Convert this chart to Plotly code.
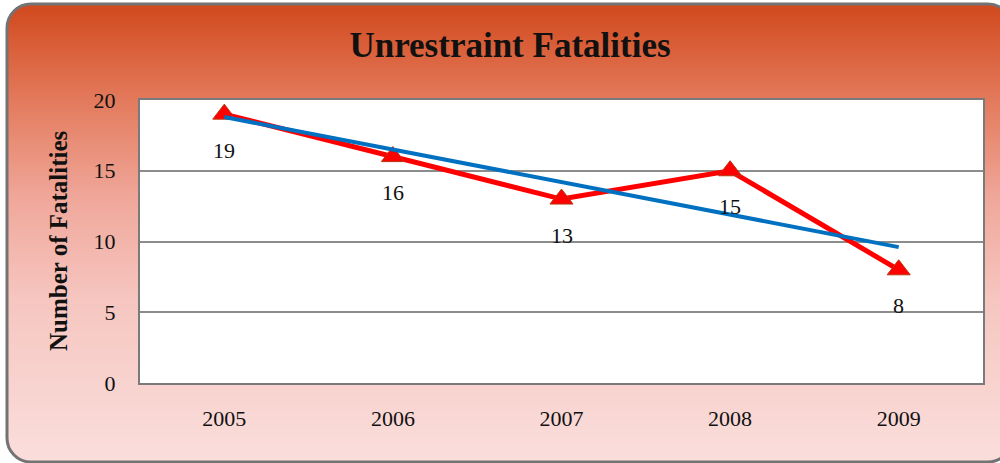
import numpy as np
import plotly.graph_objects as go

# ---------------- data ----------------
years = ["2005", "2006", "2007", "2008", "2009"]
fatalities = [19, 16, 13, 15, 8]
y_ticks = [0, 5, 10, 15, 20]
chart_title = "Unrestraint Fatalities"
y_title = "Number of Fatalities"

# linear trendline derived from the series (as in the source chart)
idx = np.arange(len(years))
slope, intercept = np.polyfit(idx, fatalities, 1)
trend = (slope * idx + intercept).tolist()

# ---------------- layout geometry (pixels) ----------------
W, H = 1000, 463
L, R, T, B = 140, 983, 100, 383


def px(x):
    return (x - L) / (R - L)


def py(y):
    return (B - y) / (B - T)


SERIF = "Liberation Serif, Times New Roman, serif"

# gradient background for the card
stops = [(3, (209, 72, 28)), (100, (227, 122, 92)), (200, (240, 168, 155)),
         (300, (246, 198, 192)), (461, (250, 222, 220))]


def color_at(y):
    for (y0, c0), (y1, c1) in zip(stops[:-1], stops[1:]):
        if y <= y1:
            t = max(0.0, (y - y0) / (y1 - y0))
            c = [round(a + (b - a) * t) for a, b in zip(c0, c1)]
            return f"rgb({c[0]},{c[1]},{c[2]})"
    c = stops[-1][1]
    return f"rgb({c[0]},{c[1]},{c[2]})"


cx0, cx1, cy0, cy1 = 7, 1012, 4, 462
rad = 24
k = 0.5523
shapes = []
step = 2
for yy in range(cy0, cy1, step):
    shapes.append(dict(type="rect", xref="paper", yref="paper",
                       x0=px(cx0), x1=px(cx1), y0=py(yy), y1=py(min(yy + step + 0.7, cy1)),
                       fillcolor=color_at(yy + step / 2), line=dict(width=0), layer="below"))


def P(x, y):
    return f"{px(x):.6f},{py(y):.6f}"


# white masks on the four corners
corners = [
    f"M {P(cx0, cy0)} L {P(cx0 + rad, cy0)} C {P(cx0 + rad - k * rad, cy0)} {P(cx0, cy0 + rad - k * rad)} {P(cx0, cy0 + rad)} Z",
    f"M {P(cx1, cy0)} L {P(cx1 - rad, cy0)} C {P(cx1 - rad + k * rad, cy0)} {P(cx1, cy0 + rad - k * rad)} {P(cx1, cy0 + rad)} Z",
    f"M {P(cx0, cy1)} L {P(cx0 + rad, cy1)} C {P(cx0 + rad - k * rad, cy1)} {P(cx0, cy1 - rad + k * rad)} {P(cx0, cy1 - rad)} Z",
    f"M {P(cx1, cy1)} L {P(cx1 - rad, cy1)} C {P(cx1 - rad + k * rad, cy1)} {P(cx1, cy1 - rad + k * rad)} {P(cx1, cy1 - rad)} Z",
]
for pth in corners:
    shapes.append(dict(type="path", xref="paper", yref="paper", path=pth,
                       fillcolor="white", line=dict(width=0), layer="below"))

border = (f"M {P(cx0 + rad, cy0)} L {P(cx1 - rad, cy0)} "
          f"C {P(cx1 - rad + k * rad, cy0)} {P(cx1, cy0 + rad - k * rad)} {P(cx1, cy0 + rad)} "
          f"L {P(cx1, cy1 - rad)} "
          f"C {P(cx1, cy1 - rad + k * rad)} {P(cx1 - rad + k * rad, cy1)} {P(cx1 - rad, cy1)} "
          f"L {P(cx0 + rad, cy1)} "
          f"C {P(cx0 + rad - k * rad, cy1)} {P(cx0, cy1 - rad + k * rad)} {P(cx0, cy1 - rad)} "
          f"L {P(cx0, cy0 + rad)} "
          f"C {P(cx0, cy0 + rad - k * rad)} {P(cx0 + rad - k * rad, cy0)} {P(cx0 + rad, cy0)} Z")
shapes.append(dict(type="path", xref="paper", yref="paper", path=border,
                   fillcolor="rgba(0,0,0,0)", line=dict(color="#737373", width=3), layer="below"))

# white plot area
shapes.append(dict(type="rect", xref="x domain", yref="y domain", x0=0, x1=1, y0=0, y1=1,
                   fillcolor="white", line=dict(width=0), layer="below"))

fig = go.Figure()
fig.add_trace(go.Scatter(
    x=years, y=fatalities, mode="lines+markers",
    line=dict(color="#FF0000", width=5),
    marker=dict(symbol="triangle-up", size=20, color="#FF0000",
                line=dict(color="#B8360F", width=1)),
    showlegend=False, hoverinfo="x+y"))
fig.add_trace(go.Scatter(
    x=years, y=trend, mode="lines",
    line=dict(color="#0070C0", width=4),
    showlegend=False, hoverinfo="skip"))

annotations = []
for i, v in enumerate(fatalities):
    annotations.append(dict(x=i, y=v, xref="x", yref="y", text=str(v), showarrow=False,
                            xanchor="center", yanchor="middle",
                            yshift=-36, font=dict(family=SERIF, size=22, color="#111111")))
annotations.append(dict(x=px(58), y=py(241), xref="paper", yref="paper", text=y_title,
                        showarrow=False, textangle=-90, xanchor="center", yanchor="middle",
                        font=dict(family=SERIF, size=25, color="#111111", weight="bold")))

fig.update_layout(
    width=W, height=H,
    margin=dict(l=L, r=W - R, t=T, b=H - B, pad=0),
    paper_bgcolor="white", plot_bgcolor="white",
    title=dict(text=chart_title, x=0.51, xanchor="center", xref="container",
               y=1 - 45 / H, yanchor="middle", yref="container",
               font=dict(family=SERIF, size=35, color="#111111", weight="bold")),
    shapes=shapes, annotations=annotations,
    xaxis=dict(type="category", categoryorder="array", categoryarray=years,
               range=[-0.5, len(years) - 0.5], showgrid=False,
               showline=True, mirror=True, linecolor="#7a7a7a", linewidth=2,
               ticks="", ticklabelstandoff=15,
               tickfont=dict(family=SERIF, size=22, color="#111111")),
    yaxis=dict(range=[0, 20], tickvals=y_ticks, showgrid=True, gridcolor="#8c8c8c", gridwidth=1.5,
               zeroline=False, showline=True, mirror=True, linecolor="#7a7a7a", linewidth=2,
               ticks="", ticklabelstandoff=18,
               tickfont=dict(family=SERIF, size=22, color="#111111")),
    hovermode="closest",
)

fig.write_html("out.html", config={"displayModeBar": False},
               post_script="document.body.style.margin='0';")
